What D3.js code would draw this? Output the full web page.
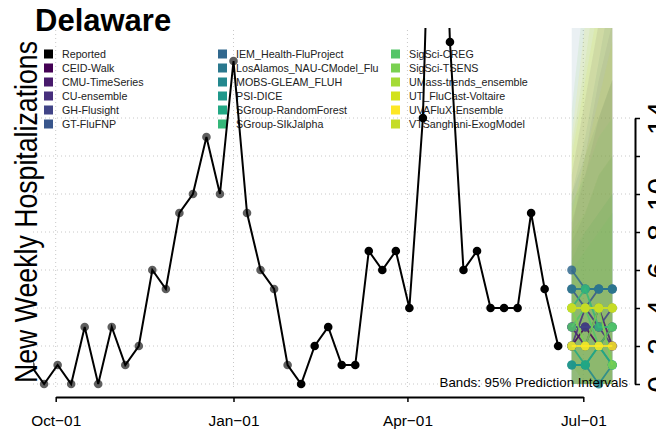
<!DOCTYPE html>
<html><head><meta charset="utf-8">
<script src="https://cdn.jsdelivr.net/npm/d3@7"></script>
<style>body{margin:0;background:#fff} svg{display:block;font-family:"Liberation Sans",Arial,Helvetica,sans-serif}</style>
</head><body><svg id="c" width="656" height="432"></svg>
<script>
// ---------- data ----------
const reportedDates = ["2022-09-18","2022-09-25","2022-10-02","2022-10-09","2022-10-16","2022-10-23","2022-10-30",
  "2022-11-06","2022-11-13","2022-11-20","2022-11-27","2022-12-04","2022-12-11","2022-12-18","2022-12-25",
  "2023-01-01","2023-01-08","2023-01-15","2023-01-22","2023-01-29","2023-02-05","2023-02-12","2023-02-19","2023-02-26",
  "2023-03-05","2023-03-12","2023-03-19","2023-03-26","2023-04-02","2023-04-09","2023-04-16","2023-04-23","2023-04-30",
  "2023-05-07","2023-05-14","2023-05-21","2023-05-28","2023-06-04","2023-06-11","2023-06-18"];
const reportedValues = [1,0,1,0,3,0,3,1,2,6,5,9,10,13,10,17,9,6,5,1,0,2,3,1,1,7,6,7,4,14,39,18,6,7,4,4,4,9,5,2];
const grayUntil = "2023-01-29";
const forecastDates = ["2023-06-25","2023-07-02","2023-07-09","2023-07-16"];
const models = ["CEID-Walk","CMU-TimeSeries","CU-ensemble","GH-Flusight","GT-FluFNP","IEM_Health-FluProject",
  "LosAlamos_NAU-CModel_Flu","MOBS-GLEAM_FLUH","PSI-DICE","SGroup-RandomForest","SGroup-SIkJalpha","SigSci-CREG",
  "SigSci-TSENS","UMass-trends_ensemble","UT_FluCast-Voltaire","UVAFluX-Ensemble","VTSanghani-ExogModel"];
const modelColors = ["#440154","#481a6c","#472f7d","#414487","#39568c","#31688e","#2a788e","#23888e","#1f988b",
  "#22a884","#35b779","#54c568","#7ad151","#a5db36","#d2e21b","#fde725","#c5dc27"];
const medians = [[2,3,2,3],[3,2,4,2],[2,4,3,2],[3,3,3,4],[5,4,5,5],[6,5,5,5],[5,5,5,5],[1,1,0,1],[1,1,2,1],
  [2,1,2,1],[4,5,3,3],[3,4,2,3],[4,2,4,1],[4,4,4,4],[4,4,4,4],[2,2,2,2],[4,4,4,4]];
const lower = [[0,0,0,0],[0,0,0,0],[0,0,0,0],[0,0,0,0],[1,0,0,0],[0,0,0,0],[1,0,0,0],[0,0,0,0],[0,0,0,0],
  [0,0,0,0],[0,0,0,0],[0,0,0,0],[0,0,0,0],[1,0,0,0],[0,0,0,0],[0,0,0,0],[0,0,0,0]];
const upper = [[8.5,11,14,16],[11,15,19,24],[7.5,9,11,12],[8,12,16,19],[10,13,17,21],[25,32,38,45],[10,12,14,16],
  [7,8,9,10],[6.5,8,9,10],[6,7,8,9],[9.5,11,13,14],[8,9,11,12],[14.4,21,28,35],[12.5,17,22,27],[12,16,20,25],
  [13,19,25,30],[9,12,15,18]];
const yTicks = [0,2,4,6,8,10,12,14];
const yTickLabels = ["0","2","4","6","8","10","","14"];
const xTicks = ["2022-10-01","2023-01-01","2023-04-01","2023-07-01"];
const xTickLabels = ["Oct\u221201","Jan\u221201","Apr\u221201","Jul\u221201"];
const title = "Delaware";
const yTitle = "New Weekly Hospitalizations";
const bandNote = "Bands: 95% Prediction Intervals";

// ---------- layout ----------
const P = d3.utcParse("%Y-%m-%d");
const svg = d3.select("#c");
const x = d3.scaleUtc().domain([P(xTicks[0]), P(xTicks[3])]).range([55.7, 583.3]);
const y = d3.scaleLinear().domain([0, 14]).range([384, 118]);
const clipL = 33, clipT = 28, clipR = 635, clipB = 398;

svg.append("defs").append("clipPath").attr("id","pc").append("rect")
  .attr("x",clipL).attr("y",clipT).attr("width",clipR-clipL).attr("height",clipB-clipT);

// grid
const grid = svg.append("g").attr("stroke","#c8c8c8").attr("stroke-dasharray","1,3").attr("stroke-width",1);
yTicks.forEach(t => grid.append("line").attr("x1",clipL).attr("x2",633).attr("y1",y(t)).attr("y2",y(t)));
xTicks.forEach(t => grid.append("line").attr("x1",x(P(t))).attr("x2",x(P(t))).attr("y1",30).attr("y2",390));

// legend
const legendItems = [{name:"Reported", color:"#000"}].concat(models.map((m,i)=>({name:m,color:modelColors[i]})));
const colX = [44, 218, 391], rowY0 = 54, rowStep = 14;
const lg = svg.append("g");
legendItems.forEach((d,i) => {
  const c = Math.floor(i/6), r = i%6;
  lg.append("rect").attr("x",colX[c]).attr("y",rowY0 + r*rowStep - 4.5).attr("width",9).attr("height",9).attr("fill",d.color);
  lg.append("text").attr("x",colX[c]+18).attr("y",rowY0 + r*rowStep + 3.8).attr("font-size",10.7).attr("fill","#222").text(d.name);
});

// plot
const plot = svg.append("g").attr("clip-path","url(#pc)");
const fx = forecastDates.map(P);
models.forEach((m,i) => {
  const area = d3.area().x((d,k)=>x(fx[k])).y0((d,k)=>y(lower[i][k])).y1((d,k)=>y(upper[i][k]));
  plot.append("path").attr("d", area(fx)).attr("fill", modelColors[i]).attr("fill-opacity",0.1);
});

const rep = reportedDates.map((d,i)=>({date:P(d), v:reportedValues[i]}));
const gcut = P(grayUntil);
plot.selectAll("circle.g").data(rep.filter(d=>d.date<=gcut)).join("circle")
  .attr("cx",d=>x(d.date)).attr("cy",d=>y(d.v)).attr("r",4.3).attr("fill","#5e5e5e");
plot.append("path").attr("d", d3.line().x(d=>x(d.date)).y(d=>y(d.v))(rep))
  .attr("fill","none").attr("stroke","#000").attr("stroke-width",2);
plot.selectAll("circle.b").data(rep.filter(d=>d.date>gcut)).join("circle")
  .attr("cx",d=>x(d.date)).attr("cy",d=>y(d.v)).attr("r",4.3).attr("fill","#000");

models.forEach((m,i) => {
  const pts = medians[i].map((v,k)=>({date:fx[k], v}));
  plot.append("path").attr("d", d3.line().x(d=>x(d.date)).y(d=>y(d.v))(pts))
    .attr("fill","none").attr("stroke",modelColors[i]).attr("stroke-width",1.8).attr("stroke-opacity",0.85);
  plot.append("g").selectAll("circle").data(pts).join("circle")
    .attr("cx",d=>x(d.date)).attr("cy",d=>y(d.v)).attr("r",4.5).attr("fill",modelColors[i]).attr("fill-opacity",0.85);
});

// axes
const xa = svg.append("g").attr("transform","translate(0,397)")
  .call(d3.axisBottom(x).tickValues(xTicks.map(P)).tickFormat((d,i)=>xTickLabels[i]).tickSize(5).tickSizeOuter(0));
xa.select(".domain").attr("stroke-width",2);
xa.selectAll(".tick line").attr("stroke-width",1.5);
xa.selectAll("text").attr("y",29).attr("dy",null).attr("font-size",15.4).attr("fill","#000").attr("font-family",null);

const ya = svg.append("g").attr("transform","translate(635,0)")
  .call(d3.axisRight(y).tickValues(yTicks).tickFormat((d,i)=>yTickLabels[i]).tickSize(5).tickSizeOuter(0));
ya.select(".domain").attr("stroke-width",2);
ya.selectAll(".tick line").attr("stroke-width",1.5);
ya.selectAll("text").attr("x",null).attr("dy",null).attr("transform","translate(33,0) rotate(-90)")
  .attr("text-anchor","middle").attr("font-size",30).attr("fill","#000").attr("font-family",null);

// texts
svg.append("text").attr("x",35).attr("y",31).attr("font-size",31).attr("font-weight","bold").text(title);
svg.append("text").attr("transform","translate(37,212) rotate(-90)").attr("text-anchor","middle")
  .attr("font-size",31).attr("textLength",342).attr("lengthAdjust","spacingAndGlyphs").text(yTitle);
svg.append("text").attr("x",628).attr("y",386.5).attr("text-anchor","end").attr("font-size",13.3).text(bandNote);
</script></body></html>
